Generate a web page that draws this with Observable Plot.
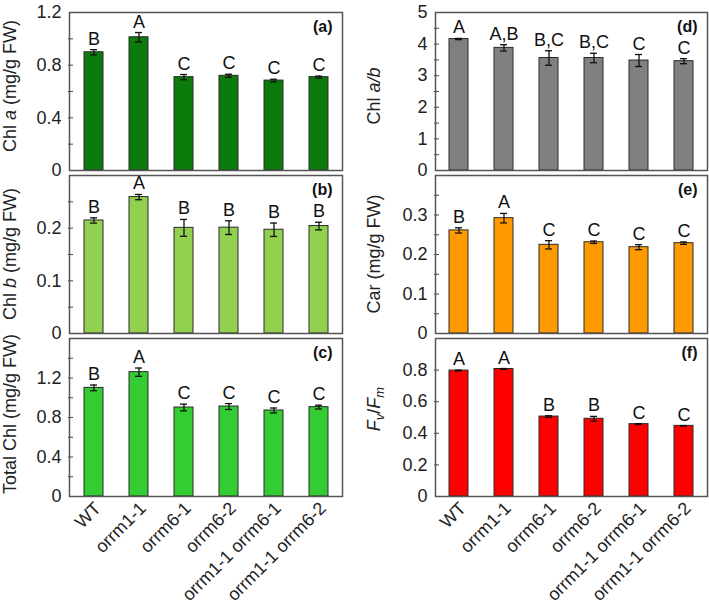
<!DOCTYPE html>
<html><head><meta charset="utf-8">
<script src="https://cdn.jsdelivr.net/npm/d3@7"></script>
<script src="https://cdn.jsdelivr.net/npm/@observablehq/plot@0.6"></script>
<style>
body{margin:0;background:#fff;font-family:"Liberation Sans",Arial,sans-serif;}
#wrap{position:relative;width:709px;height:602px;overflow:hidden;background:#fff;}
.pnl{position:absolute;}
.ytitle{position:absolute;transform:translate(-50%,-50%) rotate(-90deg);white-space:nowrap;font-size:18px;color:#222;line-height:1;}
.ytitle sub{font-size:72%;vertical-align:-0.3em;line-height:0;}
</style></head><body><div id="wrap"></div><script>
const genotypes = ["WT", "orrm1-1", "orrm6-1", "orrm6-2", "orrm1-1 orrm6-1", "orrm1-1 orrm6-2"];

// (a) Chl a
const chlA = [0.898, 1.012, 0.709, 0.719, 0.683, 0.709];
const chlAErr = [0.02, 0.036, 0.02, 0.012, 0.01, 0.008];
const chlALetters = ["B", "A", "C", "C", "C", "C"];
// (b) Chl b
const chlB = [0.2146, 0.259, 0.2006, 0.201, 0.197, 0.204];
const chlBErr = [0.005, 0.005, 0.016, 0.013, 0.0127, 0.0073];
const chlBLetters = ["B", "A", "B", "B", "B", "B"];
// (c) Total Chl
const totChl = [1.10, 1.259, 0.901, 0.911, 0.871, 0.905];
const totChlErr = [0.029, 0.042, 0.034, 0.03, 0.025, 0.019];
const totChlLetters = ["B", "A", "C", "C", "C", "C"];
// (d) Chl a/b
const chlAB = [4.16, 3.88, 3.56, 3.56, 3.48, 3.46];
const chlABErr = [0.02, 0.1, 0.23, 0.15, 0.19, 0.08];
const chlABLetters = ["A", "A,B", "B,C", "B,C", "C", "C"];
// (e) Car
const car = [0.261, 0.292, 0.2245, 0.231, 0.2185, 0.2287];
const carErr = [0.0067, 0.012, 0.0105, 0.003, 0.0063, 0.003];
const carLetters = ["B", "A", "C", "C", "C", "C"];
// (f) Fv/Fm
const fvfm = [0.797, 0.807, 0.506, 0.492, 0.458, 0.447];
const fvfmErr = [0.003, 0.003, 0.005, 0.015, 0.003, 0.002];
const fvfmLetters = ["A", "A", "B", "B", "C", "C"];

// tick labels and tick marks
const ticksA = [0, 0.4, 0.8, 1.2], marksA = [0.2, 0.4, 0.6, 0.8, 1.0];
const ticksB = [0, 0.1, 0.2], marksB = [0.05, 0.1, 0.15, 0.2, 0.25];
const ticksC = [0, 0.4, 0.8, 1.2], marksC = [0.2, 0.4, 0.6, 0.8, 1.0, 1.2, 1.4];
const ticksD = [0, 1, 2, 3, 4, 5], marksD = [0.5, 1, 1.5, 2, 2.5, 3, 3.5, 4, 4.5];
const ticksE = [0, 0.1, 0.2, 0.3], marksE = [0.05, 0.1, 0.15, 0.2, 0.25, 0.3, 0.35];
const ticksF = [0, 0.2, 0.4, 0.6, 0.8], marksF = [0.2, 0.4, 0.6, 0.8];

const FONT = "Liberation Sans, Arial, sans-serif";
const wrap = document.getElementById("wrap");

const cols = [{left: 0, w: 355, ml: 69, mr: 13, tx: 10}, {left: 355, w: 354, ml: 80, mr: 2, tx: 374}];
const rows = [{top: 0, h: 172, mt: 12, mb: 2}, {top: 172, h: 163, mt: 3, mb: 2}, {top: 335, h: 267, mt: 3, mb: 106}];

const panels = [
  {col: 0, row: 0, values: chlA, errors: chlAErr, letters: chlALetters, color: "#0b7b0b", domain: [0, 1.2], ticks: ticksA, marks: marksA, tag: "(a)", title: "Chl <i>a</i> (mg/g FW)", ty: 86},
  {col: 0, row: 1, values: chlB, errors: chlBErr, letters: chlBLetters, color: "#92d050", domain: [0, 0.3], ticks: ticksB, marks: marksB, tag: "(b)", title: "Chl <i>b</i> (mg/g FW)", ty: 254},
  {col: 0, row: 2, values: totChl, errors: totChlErr, letters: totChlLetters, color: "#33cc33", domain: [0, 1.6], ticks: ticksC, marks: marksC, tag: "(c)", title: "Total Chl (mg/g FW)", ty: 414},
  {col: 1, row: 0, values: chlAB, errors: chlABErr, letters: chlABLetters, color: "#808080", domain: [0, 5], ticks: ticksD, marks: marksD, tag: "(d)", title: "Chl <i>a/b</i>", ty: 96},
  {col: 1, row: 1, values: car, errors: carErr, letters: carLetters, color: "#ff9900", domain: [0, 0.4], ticks: ticksE, marks: marksE, tag: "(e)", title: "Car (mg/g FW)", ty: 254},
  {col: 1, row: 2, values: fvfm, errors: fvfmErr, letters: fvfmLetters, color: "#ff0000", domain: [0, 1], ticks: ticksF, marks: marksF, tag: "(f)", title: "<i>F</i><sub><i>v</i></sub>/<i>F</i><sub><i>m</i></sub>", ty: 409}
];

for (const p of panels) {
  const c = cols[p.col], r = rows[p.row];
  const data = genotypes.map((g, i) => ({g, v: p.values[i], e: p.errors[i], L: p.letters[i]}));
  const bottom = p.row === 2;
  const chart = Plot.plot({
    width: c.w, height: r.h,
    marginLeft: c.ml, marginRight: c.mr, marginTop: r.mt, marginBottom: r.mb,
    style: {background: "transparent", overflow: "visible", fontFamily: FONT, fontSize: "18px", color: "#222"},
    x: {domain: genotypes, paddingInner: 0.58, paddingOuter: 0.29, axis: null},
    y: {domain: p.domain, axis: null},
    marks: [
      Plot.barY(data, {x: "g", y: "v", fill: p.color, stroke: "#2a2a2a", strokeWidth: 1}),
      Plot.ruleX(data, {x: "g", y1: d => d.v - d.e, y2: d => d.v + d.e, stroke: "#111", strokeWidth: 1.3}),
      Plot.tickY(data, {x: "g", y: d => d.v + d.e, insetLeft: 6, insetRight: 6, stroke: "#111", strokeWidth: 1.3}),
      Plot.tickY(data, {x: "g", y: d => d.v - d.e, insetLeft: 6, insetRight: 6, stroke: "#111", strokeWidth: 1.3}),
      Plot.text(data, {x: "g", y: d => d.v + d.e, text: "L", lineAnchor: "bottom", dy: -5, fontSize: 18, fill: "#111"}),
      Plot.axisY(p.marks, {tickSize: 5, dx: 4, tickFormat: () => "", stroke: "#444", label: null}),
      Plot.axisY(p.ticks, {tickSize: 0, tickPadding: 8, tickFormat: d => String(d), fontSize: 18, fill: "#222", label: null}),
      bottom ? Plot.axisX({tickRotate: -45, tickSize: 0, dx: 4, dy: -3, fontSize: 18, fill: "#222", label: null}) : null,
      Plot.frame({stroke: "#555", strokeWidth: 1.5}),
      Plot.text([p.tag], {frameAnchor: "top-right", dx: -10, dy: 8, lineAnchor: "top", fontWeight: "bold", fontSize: 16, fill: "#111"})
    ]
  });
  const div = document.createElement("div");
  div.className = "pnl";
  div.style.left = c.left + "px";
  div.style.top = r.top + "px";
  div.appendChild(chart);
  wrap.appendChild(div);

  const t = document.createElement("div");
  t.className = "ytitle";
  t.style.left = c.tx + "px";
  t.style.top = p.ty + "px";
  t.innerHTML = p.title;
  wrap.appendChild(t);
}
</script></body></html>
